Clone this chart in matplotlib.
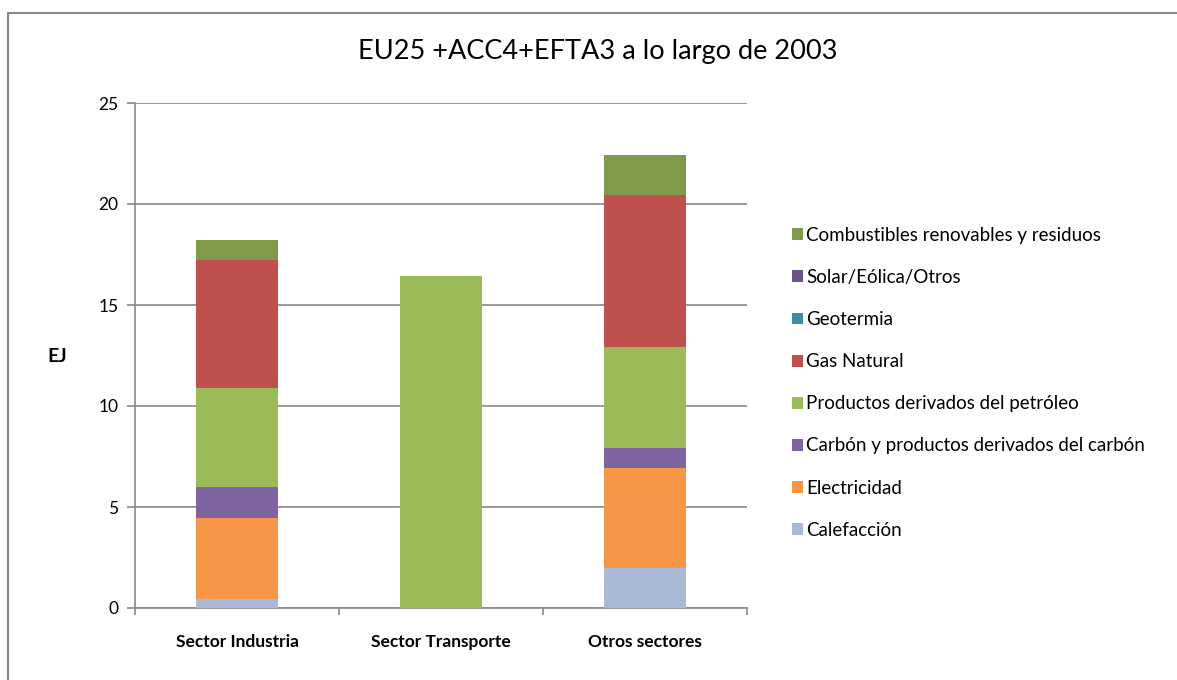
import numpy as np
import matplotlib
matplotlib.use("Agg")
import matplotlib.pyplot as plt
from matplotlib.patches import Rectangle

plt.rcParams['font.family'] = ['Lato', 'DejaVu Sans']

sectors = ['Sector Industria', 'Sector Transporte', 'Otros sectores']
series_names = ['Calefacción', 'Electricidad', 'Carbón y productos derivados del carbón',
                'Productos derivados del petróleo', 'Gas Natural', 'Geotermia',
                'Solar/Eólica/Otros', 'Combustibles renovables y residuos']
calefaccion = [0.45, 0.0, 2.0]
electricidad = [4.0, 0.0, 4.93]
carbon = [1.55, 0.0, 1.0]
petroleo = [4.9, 16.45, 5.0]
gas_natural = [6.35, 0.0, 7.5]
geotermia = [0.0, 0.0, 0.0]
solar = [0.0, 0.0, 0.0]
renovables = [0.95, 0.0, 2.0]
colors = ['#A9B9D6', '#F79646', '#8064A2', '#9BBB59', '#C0504D', '#3C8DA3', '#6A5288', '#7F9A48']

values = [calefaccion, electricidad, carbon, petroleo, gas_natural, geotermia, solar, renovables]

fig = plt.figure(figsize=(11.77, 6.8), dpi=100)
ax = fig.add_axes([135/1177, 1 - 608/680, (747-135)/1177, (608-103)/680])

# chart frame
fig.patches.append(Rectangle((8/1177, -0.01), 1.0, 1 - 13/680 + 0.01, transform=fig.transFigure,
                             fill=False, edgecolor='#888888', linewidth=1.5))

x = np.arange(len(sectors))
bottom = np.zeros(len(sectors))
handles = []
for name, vals, c in zip(series_names, values, colors):
    b = ax.bar(x, vals, width=0.4, bottom=bottom, color=c, label=name, zorder=3)
    handles.append(b)
    bottom += np.array(vals)

ax.set_xlim(-0.5, 2.5)
ax.set_ylim(0, 25)
ax.set_yticks(range(0, 26, 5))
ax.yaxis.grid(True, color='#888888', linewidth=1.2, zorder=0)
ax.set_axisbelow(True)
for s in ['top', 'right']:
    ax.spines[s].set_visible(False)
for s in ['left', 'bottom']:
    ax.spines[s].set_color('#888888')
    ax.spines[s].set_linewidth(1.2)
ax.tick_params(axis='y', length=6, color='#888888', width=1.2, labelsize=12.5, pad=6)
ax.set_xticks(x)
ax.set_xticklabels(sectors, fontsize=12.5, fontweight='bold')
ax.tick_params(axis='x', length=0, pad=19)
ax.set_xticks([-0.5, 0.5, 1.5, 2.5], minor=True)
ax.tick_params(axis='x', which='minor', length=5, color='#888888', width=1.2)

fig.text(57/1177, 1 - 356/680, 'EJ', fontsize=14, fontweight='bold', ha='center', va='center')
fig.text(598/1177, 1 - 52/680, 'EU25 +ACC4+EFTA3 a lo largo de 2003', fontsize=19.5,
         ha='center', va='center')

leg = fig.legend(handles[::-1], series_names[::-1], loc='upper left',
                 bbox_to_anchor=(775/1177, 1 - 210/680), frameon=False, fontsize=13.5,
                 handlelength=0.6, handleheight=0.6, handletextpad=0.15, labelspacing=1.34)

fig.savefig('out.png', dpi=100)
